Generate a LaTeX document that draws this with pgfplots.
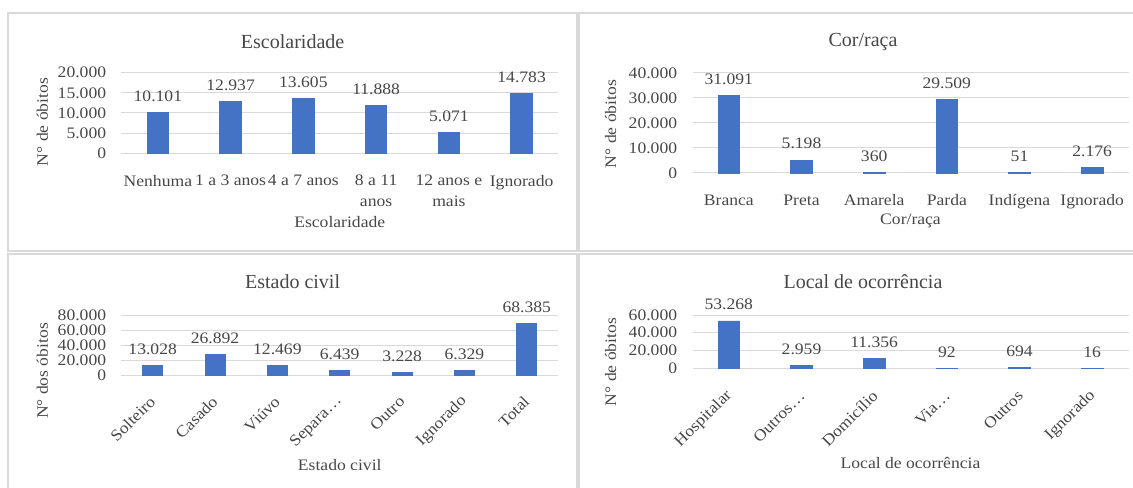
\documentclass[border=0pt]{standalone}
\usepackage{pgfplots}
\pgfplotsset{compat=1.18}
\usepackage{fontspec}
\setmainfont{Liberation Serif}
\newfontfamily\lblff{Liberation Serif}[FakeStretch=1.1]
\newcommand\lbl{\lblff\fontsize{12pt}{15.75pt}\selectfont}
\newcommand\ttl{\rmfamily\fontsize{15pt}{18pt}\selectfont}
\definecolor{barblue}{HTML}{4472C4}
\definecolor{gridgray}{HTML}{D9D9D9}
\definecolor{txt}{HTML}{474747}
\definecolor{border}{HTML}{D9D9D9}
\pgfplotsset{
  panel/.style={
    scale only axis, anchor=south west, ybar, bar width=16.2pt, clip=false,
    axis line style={draw=none}, tick style={draw=none},
    ymajorgrids, major grid style={draw=gridgray, line width=0.75pt},
    ymin=0, xmin=-0.5, xmax=5.5, xtick={0,...,6},
    scaled y ticks=false,
    /pgf/number format/1000 sep={.},
    /pgf/number format/assume math mode=true,
    tick label style={font=\lbl, text=txt},
    xticklabel style={align=center},
    yticklabel shift=8pt, xticklabel shift=8.5pt,
    label style={font=\lbl, text=txt},
    title style={font=\ttl, text=txt, anchor=center, yshift=-6pt},
    xlabel style={anchor=center},
    ylabel style={anchor=center},
    nodes near coords,
    nodes near coords style={font=\lbl, text=txt, yshift=4.5pt},
  },
  rotlabels/.style={
    xticklabel style={xshift=3pt, rotate=45, anchor=east},
    xticklabel shift=12pt,
  },
  bars/.style={fill=barblue, draw=barblue, line width=0.7pt},
}
\begin{document}
\begin{tikzpicture}
\path[use as bounding box] (0,0) rectangle (849.75pt,-366pt);
\begin{scope}
\clip (0,0) rectangle (849.75pt,-366pt);
\draw[border, line width=1.2pt] (6pt,-9.75pt) rectangle (432.75pt,-188.25pt);
\draw[border, line width=1.2pt] (434.25pt,-9.75pt) rectangle (862.5pt,-188.25pt);
\draw[border, line width=1.2pt] (6pt,-190.5pt) rectangle (432.75pt,-371.25pt);
\draw[border, line width=1.2pt] (434.25pt,-190.5pt) rectangle (862.5pt,-371.25pt);
\end{scope}

% Panel 1: Escolaridade
\begin{axis}[panel,
  at={(91.125pt,-114.975pt)}, width=327.375pt, height=60.45pt,
  ymax=20000, ytick={0,5000,10000,15000,20000},
  xticklabels={Nenhuma, 1 a 3 anos, 4 a 7 anos, {8 a 11\\anos}, {12 anos e\\mais}, Ignorado},
  title={Escolaridade}, title style={at={(axis description cs:0.392,1.381)}},
  xlabel={Escolaridade}, xlabel style={at={(axis description cs:0.5,-0.852)}},
  ylabel={N° de óbitos}, ylabel style={at={(axis description cs:-0.181,0.388)}},
]
\addplot[bars] coordinates {(0,10101) (1,12937) (2,13605) (3,11888) (4,5071) (5,14783)};
\end{axis}

% Panel 2: Cor/raça
\begin{axis}[panel,
  at={(519.375pt,-129.75pt)}, width=327pt, height=75pt,
  ymax=40000, ytick={0,10000,20000,30000,40000},
  xticklabels={Branca, Preta, Amarela, Parda, Indígena, Ignorado},
  title={Cor/raça}, title style={at={(axis description cs:0.391,1.31)}},
  xlabel={Cor/raça}, xlabel style={at={(axis description cs:0.5,-0.48)}},
  ylabel={N° de óbitos}, ylabel style={at={(axis description cs:-0.188,0.49)}},
]
\addplot[bars] coordinates {(0,31091) (1,5198) (2,360) (3,29509) (4,51) (5,2176)};
\end{axis}

% Panel 3: Estado civil
\begin{axis}[panel, rotlabels,
  xticklabel style={xshift=-1pt}, xticklabel shift=10.5pt,
  at={(91.125pt,-281.25pt)}, width=327.375pt, height=45pt,
  xmax=6.5, bar width=15pt,
  ymax=80000, ytick={0,20000,40000,60000,80000},
  xticklabels={Solteiro, Casado, Viúvo, Separa…, Outro, Ignorado, Total},
  title={Estado civil}, title style={at={(axis description cs:0.392,1.55)}},
  xlabel={Estado civil}, xlabel style={at={(axis description cs:0.5,-1.5)}},
  ylabel={N° dos óbitos}, ylabel style={at={(axis description cs:-0.181,0.067)}},
]
\addplot[bars] coordinates {(0,13028) (1,26892) (2,12469) (3,6439) (4,3228) (5,6329) (6,68385)};
\end{axis}

% Panel 4: Local de ocorrência
\begin{axis}[panel, rotlabels,
  at={(519.375pt,-276.225pt)}, width=327pt, height=39.975pt,
  ymax=60000, ytick={0,20000,40000,60000},
  xticklabels={Hospitalar, Outros…, Domicílio, Via…, Outros, Ignorado},
  title={Local de ocorrência}, title style={at={(axis description cs:0.391,1.62)}},
  xlabel={Local de ocorrência}, xlabel style={at={(axis description cs:0.5,-1.777)}},
  ylabel={N° de óbitos}, ylabel style={at={(axis description cs:-0.188,0.118)}},
]
\addplot[bars] coordinates {(0,53268) (1,2959) (2,11356) (3,92) (4,694) (5,16)};
\end{axis}
\end{tikzpicture}
\end{document}
